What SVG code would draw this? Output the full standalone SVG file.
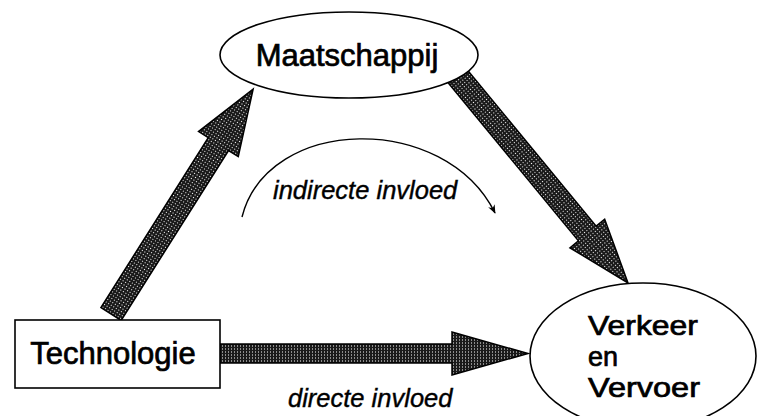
<svg xmlns="http://www.w3.org/2000/svg" width="758" height="416" viewBox="0 0 758 416">
<defs>
<pattern id="dots" width="3" height="3" patternUnits="userSpaceOnUse">
<rect width="3" height="3" fill="#1a1a1a"/>
<rect x="1" y="1" width="1" height="1" fill="#ffffff"/>
</pattern>
<marker id="thin" viewBox="0 0 10 10" refX="9" refY="5" markerWidth="9" markerHeight="9" orient="auto" markerUnits="userSpaceOnUse">
<path d="M0,1 L10,5 L0,9 L3,5 Z" fill="#000"/>
</marker>
</defs>
<style>
.fat{fill:url(#dots);stroke:#000;stroke-width:1.5;stroke-linejoin:miter}
.node{fill:#fff;stroke:#000;stroke-width:1.6}
.lbl{font-family:"Liberation Sans",Arial,sans-serif;font-size:31px;fill:#000;stroke:#000;stroke-width:0.7}
.lbl2{font-family:"Liberation Sans",Arial,sans-serif;font-size:27px;fill:#000;stroke:#000;stroke-width:0.7}
.ital{font-family:"Liberation Sans",Arial,sans-serif;font-size:25.5px;font-style:italic;fill:#000;stroke:#000;stroke-width:0.4}
</style>
<g id="connectors">
<path class="fat" transform="translate(111,314) rotate(-57.7)" d="M0,-12 L201,-12 L201,-23.5 L266,0 L201,23.5 L201,12 L0,12 Z"/>
<path class="fat" transform="translate(455,73) rotate(50.5)" d="M0,-11.5 L208,-11.5 L208,-22.5 L272,0 L208,22.5 L208,11.5 L0,11.5 Z"/>
<path class="fat" transform="translate(215,353.5)" d="M0,-9.5 L237,-9.5 L237,-21.5 L313,0 L237,21.5 L237,9.5 L0,9.5 Z"/>
<path d="M242,217 C268,115 445,112 495,213" fill="none" stroke="#000" stroke-width="1.4" marker-end="url(#thin)"/>
<text class="ital" x="273" y="199">indirecte invloed</text>
<text class="ital" x="288" y="407">directe invloed</text>
</g>
<g id="maatschappij">
<ellipse class="node" cx="349" cy="55" rx="129" ry="43"/>
<text class="lbl" x="347" y="66" text-anchor="middle">Maatschappij</text>
</g>
<g id="technologie">
<rect class="node" x="15" y="320" width="205" height="68"/>
<text class="lbl" x="113" y="364" text-anchor="middle">Technologie</text>
</g>
<g id="verkeer">
<ellipse class="node" cx="643" cy="356" rx="113" ry="73"/>
<text class="lbl2" x="588" y="335" textLength="110" lengthAdjust="spacingAndGlyphs">Verkeer</text>
<text class="lbl2" x="588" y="366">en</text>
<text class="lbl2" x="588" y="397" textLength="112" lengthAdjust="spacingAndGlyphs">Vervoer</text>
</g>
</svg>
